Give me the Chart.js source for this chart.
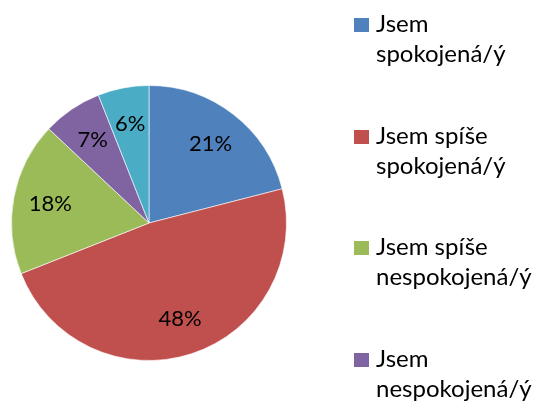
<!DOCTYPE html>
<html>
<head>
<meta charset="utf-8">
<script src="https://cdn.jsdelivr.net/npm/chart.js@4/dist/chart.umd.min.js"></script>
<style>
  html, body { margin: 0; padding: 0; width: 539px; height: 403px; overflow: hidden; background: #fff; }
  #wrap { position: relative; width: 539px; height: 403px; overflow: hidden; }
  #c { position: absolute; left: 0; top: 0; }
  #legend { position: absolute; left: 354px; top: 0; font-family: Lato, "Open Sans", sans-serif; font-size: 24px; line-height: 30px; color: #000; }
  .item { position: absolute; left: 0; width: 200px; }
  .sw { position: absolute; left: 0; top: 10px; width: 15px; height: 14px; }
  .txt { position: absolute; left: 22px; top: 0; width: 180px; white-space: nowrap; }
</style>
</head>
<body>
<div id="wrap">
  <canvas id="c" width="539" height="403"></canvas>
  <div id="legend"></div>
</div>
<script>
const categories = ["Jsem spokojená/ý", "Jsem spíše spokojená/ý", "Jsem spíše nespokojená/ý", "Jsem nespokojená/ý", "Nevím"];
const legendLines = [["Jsem", "spokojená/ý"], ["Jsem spíše", "spokojená/ý"], ["Jsem spíše", "nespokojená/ý"], ["Jsem", "nespokojená/ý"], ["Nevím"]];
const values = [21, 48, 18, 7, 6];
const colors = ["#4F81BD", "#C0504D", "#9BBB59", "#8064A2", "#4BACC6"];

const labelPlugin = {
  id: 'pctLabels',
  afterDatasetsDraw(chart) {
    const ctx = chart.ctx;
    const meta = chart.getDatasetMeta(0);
    const total = values.reduce((a, b) => a + b, 0);
    ctx.save();
    ctx.font = '22px Lato, "Open Sans", sans-serif';
    ctx.fillStyle = '#000';
    ctx.textAlign = 'center';
    ctx.textBaseline = 'middle';
    meta.data.forEach((arc, i) => {
      const p = arc.getProps(['x', 'y', 'startAngle', 'endAngle', 'outerRadius'], true);
      const mid = (p.startAngle + p.endAngle) / 2;
      const r = p.outerRadius * 0.73;
      const x = p.x + Math.cos(mid) * r;
      const y = p.y + Math.sin(mid) * r;
      ctx.fillText(Math.round(values[i] / total * 100) + '%', x, y);
    });
    ctx.restore();
  }
};

new Chart(document.getElementById('c'), {
  type: 'pie',
  data: {
    labels: categories,
    datasets: [{
      data: values,
      backgroundColor: colors,
      borderColor: 'rgba(255,255,255,0.6)',
      borderWidth: 1
    }]
  },
  options: {
    responsive: false,
    animation: false,
    layout: { padding: { left: 11, top: 85, right: 252, bottom: 42 } },
    plugins: { legend: { display: false }, tooltip: { enabled: false } }
  },
  plugins: [labelPlugin]
});

const leg = document.getElementById('legend');
legendLines.forEach((lines, i) => {
  const item = document.createElement('div');
  item.className = 'item';
  item.style.top = (8 + 111.5 * i) + 'px';
  const sw = document.createElement('div');
  sw.className = 'sw';
  sw.style.background = colors[i];
  const t = document.createElement('div');
  t.className = 'txt';
  t.innerHTML = lines.join('<br>');
  item.appendChild(sw);
  item.appendChild(t);
  leg.appendChild(item);
});
</script>
</body>
</html>
